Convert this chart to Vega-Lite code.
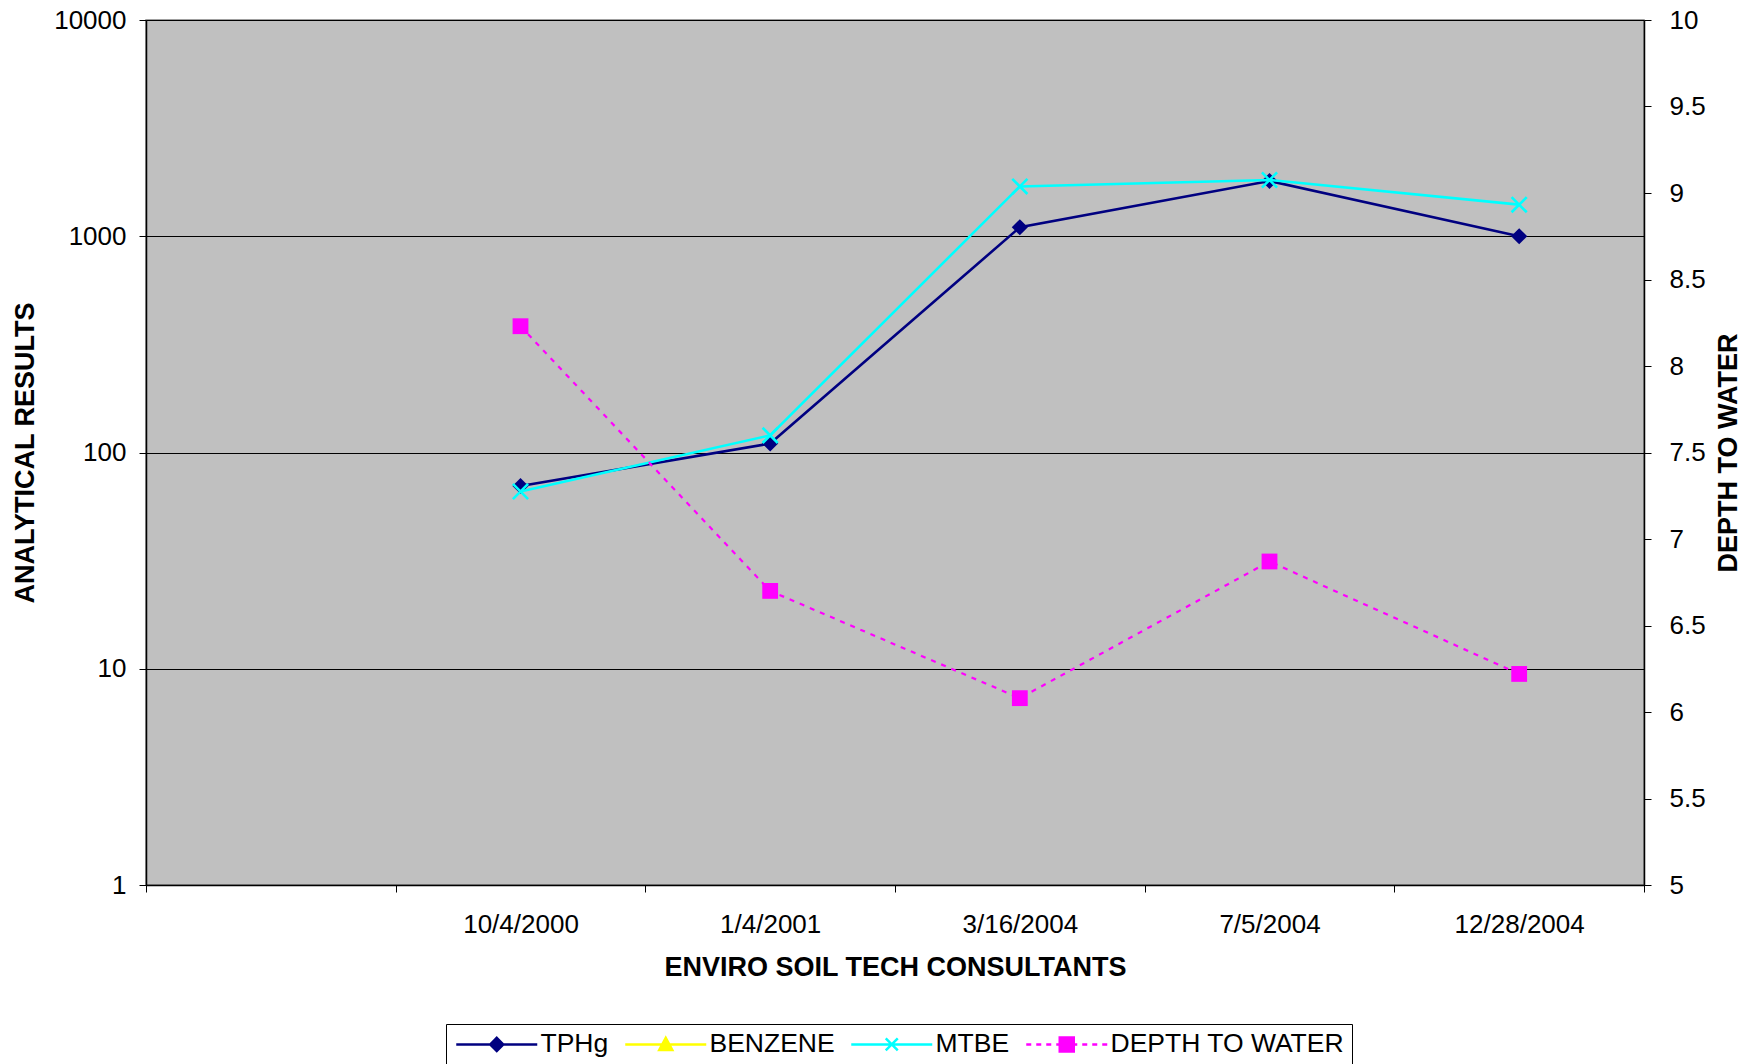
{
  "$schema": "https://vega.github.io/schema/vega-lite/v6.json",
  "width": 1498,
  "height": 865,
  "autosize": {"type": "none"},
  "padding": {"left": 146, "top": 20, "right": 109, "bottom": 179},
  "background": "white",
  "data": {
    "values": [
      {"date": "10/4/2000", "series": "TPHg", "value": 70},
      {"date": "1/4/2001", "series": "TPHg", "value": 110},
      {"date": "3/16/2004", "series": "TPHg", "value": 1100},
      {"date": "7/5/2004", "series": "TPHg", "value": 1800},
      {"date": "12/28/2004", "series": "TPHg", "value": 1000},
      {"date": "10/4/2000", "series": "MTBE", "value": 66},
      {"date": "1/4/2001", "series": "MTBE", "value": 120},
      {"date": "3/16/2004", "series": "MTBE", "value": 1700},
      {"date": "7/5/2004", "series": "MTBE", "value": 1820},
      {"date": "12/28/2004", "series": "MTBE", "value": 1400},
      {"date": "10/4/2000", "series": "DEPTH TO WATER", "value": 8.23},
      {"date": "1/4/2001", "series": "DEPTH TO WATER", "value": 6.70},
      {"date": "3/16/2004", "series": "DEPTH TO WATER", "value": 6.08},
      {"date": "7/5/2004", "series": "DEPTH TO WATER", "value": 6.87},
      {"date": "12/28/2004", "series": "DEPTH TO WATER", "value": 6.22}
    ]
  },
  "encoding": {
    "x": {
      "field": "date",
      "type": "ordinal",
      "scale": {
        "type": "band",
        "domain": [" ", "10/4/2000", "1/4/2001", "3/16/2004", "7/5/2004", "12/28/2004"],
        "paddingInner": 0,
        "paddingOuter": 0
      },
      "axis": {
        "title": "ENVIRO SOIL TECH CONSULTANTS",
        "tickBand": "extent",
        "labelAngle": 0,
        "tickSize": 7,
        "labelPadding": 19,
        "titlePadding": 17,
        "grid": false
      }
    }
  },
  "layer": [
    {
      "encoding": {
        "y": {
          "field": "value",
          "type": "quantitative",
          "scale": {"type": "log", "domain": [1, 10000], "nice": false},
          "axis": {
            "orient": "left",
            "title": "ANALYTICAL RESULTS",
            "values": [1, 10, 100, 1000, 10000],
            "format": "d",
            "grid": true,
            "gridColor": "black",
            "gridWidth": 1,
            "gridOpacity": 1,
            "tickSize": 7,
            "labelPadding": 13,
            "titlePadding": 14
          }
        }
      },
      "layer": [
        {
          "transform": [{"filter": "datum.series === 'TPHg'"}],
          "mark": {"type": "line", "color": "#000080", "strokeWidth": 2.6},
          "encoding": {}
        },
        {
          "transform": [{"filter": "datum.series === 'TPHg'"}],
          "mark": {"type": "point", "shape": "diamond", "filled": true, "color": "#000080", "size": 260, "opacity": 1}
        },
        {
          "transform": [{"filter": "datum.series === 'MTBE'"}],
          "mark": {"type": "line", "color": "#00FFFF", "strokeWidth": 2.6},
          "encoding": {}
        },
        {
          "transform": [{"filter": "datum.series === 'MTBE'"}],
          "mark": {"type": "point", "shape": "M-1,-1L1,1M-1,1L1,-1", "filled": false, "color": "#00FFFF", "size": 230, "strokeWidth": 2.6, "opacity": 1}
        },
        {
          "transform": [{"filter": "false"}],
          "mark": {"type": "point", "opacity": 1, "strokeWidth": 2.5},
          "encoding": {
            "shape": {
              "field": "series",
              "type": "nominal",
              "scale": {
                "domain": ["TPHg", "BENZENE", "MTBE", "DEPTH TO WATER"],
                "range": [
                  "M-1,0L7.1,0M3.05,-0.65L3.7,0L3.05,0.65L2.4,0Z",
                  "M-1,0L7.1,0M3.05,-0.65L3.7,0.55L2.4,0.55Z",
                  "M-1,0L7.1,0M2.45,-0.6L3.65,0.6M2.45,0.6L3.65,-0.6",
                  "M-1,0L-0.5,0M0,0L0.5,0M1,0L1.5,0M2,0L2.3,0M3.8,0L4.1,0M4.6,0L5.1,0M5.6,0L6.1,0M6.6,0L7.1,0M2.35,-0.7L3.75,-0.7L3.75,0.7L2.35,0.7Z"
                ]
              },
              "legend": {"title": null}
            },
            "fill": {
              "field": "series",
              "type": "nominal",
              "scale": {
                "domain": ["TPHg", "BENZENE", "MTBE", "DEPTH TO WATER"],
                "range": ["#000080", "#FFFF00", "#00FFFF", "#FF00FF"]
              },
              "legend": {"title": null}
            },
            "stroke": {
              "field": "series",
              "type": "nominal",
              "scale": {
                "domain": ["TPHg", "BENZENE", "MTBE", "DEPTH TO WATER"],
                "range": ["#000080", "#FFFF00", "#00FFFF", "#FF00FF"]
              },
              "legend": {"title": null}
            }
          }
        }
      ]
    },
    {
      "encoding": {
        "y": {
          "field": "value",
          "type": "quantitative",
          "scale": {"type": "linear", "domain": [5, 10], "nice": false, "zero": false},
          "axis": {
            "orient": "right",
            "title": "DEPTH TO WATER",
            "titleAngle": 270,
            "titleBaseline": "top",
            "values": [5, 5.5, 6, 6.5, 7, 7.5, 8, 8.5, 9, 9.5, 10],
            "format": "~g",
            "grid": false,
            "tickSize": 7,
            "labelPadding": 18,
            "titlePadding": 10
          }
        }
      },
      "layer": [
        {
          "transform": [{"filter": "datum.series === 'DEPTH TO WATER'"}],
          "mark": {"type": "line", "color": "#FF00FF", "strokeWidth": 2.2, "strokeDash": [5, 6]},
          "encoding": {}
        },
        {
          "transform": [{"filter": "datum.series === 'DEPTH TO WATER'"}],
          "mark": {"type": "point", "shape": "square", "filled": true, "color": "#FF00FF", "size": 250, "opacity": 1}
        }
      ]
    }
  ],
  "resolve": {"scale": {"y": "independent"}},
  "config": {
    "view": {"fill": "#C0C0C0", "stroke": "#808080", "strokeWidth": 1.5},
    "legend": {
      "orient": "none",
      "legendX": 300,
      "legendY": 1004,
      "direction": "horizontal",
      "padding": 7,
      "strokeColor": "black",
      "fillColor": "white",
      "labelFont": "Liberation Sans",
      "labelFontSize": 26.5,
      "labelColor": "black",
      "labelOffset": 61,
      "labelLimit": 0,
      "columnPadding": 11,
      "symbolSize": 400,
      "symbolStrokeWidth": 2.5,
      "symbolOpacity": 1
    },
    "axis": {
      "labelFont": "Liberation Sans",
      "labelFontSize": 26,
      "labelColor": "black",
      "titleFont": "Liberation Sans",
      "titleFontSize": 27,
      "titleFontWeight": "bold",
      "titleColor": "black",
      "domainColor": "black",
      "domainWidth": 1.5,
      "tickColor": "black",
      "tickWidth": 1,
      "labelOverlap": false,
      "labelFlush": false
    }
  }
}
